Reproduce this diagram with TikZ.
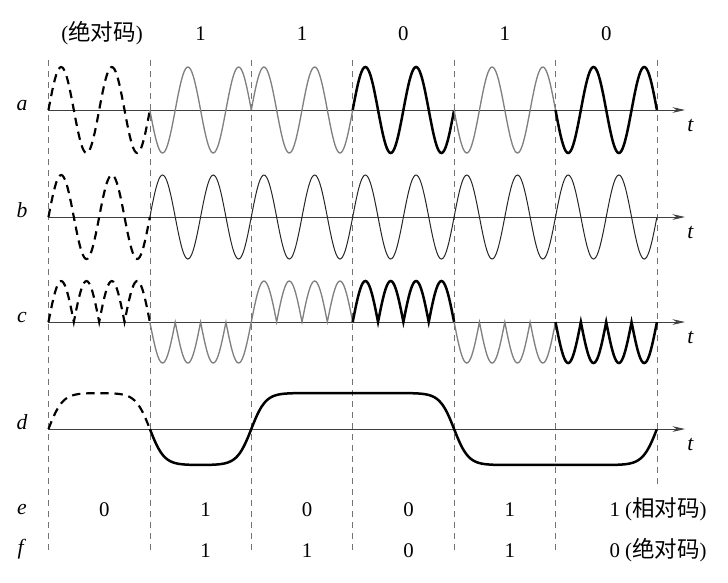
\documentclass[tikz,border=0pt]{standalone}
\usepackage{fontspec}
\setmainfont{Liberation Serif}
\newfontfamily\cjk[Scale=1.08]{Noto Sans CJK SC}
\usetikzlibrary{arrows.meta}
\tikzstyle{axis}=[draw=black!75, line width=0.5pt, -{Stealth[length=7.5pt,width=3.4pt]}]
\tikzstyle{bitline}=[draw=black!55, line width=0.4pt, dash pattern=on 3.6pt off 3pt]

\begin{document}
\begin{tikzpicture}[x=60.84pt, y=-0.6pt,
  font=\fontsize{12.5}{14}\selectfont,
  code/.style={inner sep=0pt, anchor=base},
  lbl/.style={inner sep=0pt, anchor=base, font=\fontsize{13}{15}\selectfont\itshape},
  refwave/.style={black, line width=1.3pt, dash pattern=on 5pt off 3.5pt},
  onewave/.style={black!50, line width=0.8pt},
  zerowave/.style={black, line width=1.5pt},
  carrier/.style={black!85, line width=0.6pt},
  declare function={sg(\q)=tanh(max(-3,min(3,\q/0.14)));}]
\useasboundingbox (-0.478,0) rectangle (6.701,582);
% bit boundaries
\foreach \k in {0,...,5}{
  \coordinate (top\k) at (\k,60);
  \coordinate (bot\k) at (\k,552);
  \draw[bitline] (top\k) -- (bot\k);
}
\coordinate (top6) at (6,60);
\coordinate (bot6) at (6,485);
\draw[bitline] (top6) -- (bot6);
% axes
\foreach \n/\yy in {a/110,b/217,c/322,d/429}{
  \coordinate (\n0) at (0,\yy);
  \coordinate (\n1) at (6.277,\yy);
  \draw[axis] (\n0) -- (\n1);
  \node[lbl] (\n lab) at (-0.261,\yy) {\n};
  \node[lbl] (\n t) at (6.33,\yy+21) {t};
}
\node[lbl] (elab) at (-0.261,514) {e};
\node[lbl] (flab) at (-0.275,554) {f};
% a and c
\foreach \k/\s/\st [evaluate=\k as \kk using int(\k+1)] in {0/1/refwave,1/-1/onewave,2/1/onewave,3/1/zerowave,4/-1/onewave,5/-1/zerowave}{
  \draw[\st] plot[domain=\k:\kk, samples=81] (\x,{110-43*(\s)*sin(720*\x)});
  \draw[\st] plot[domain=\k:\kk, samples=81] (\x,{322-41*(\s)*abs(sin(720*\x))});
}
% b
\draw[refwave] plot[domain=0:1, samples=81] (\x,{217-42*sin(720*\x)});
\draw[carrier] plot[domain=1:6, samples=401] (\x,{217-42*sin(720*\x)});
% d
\draw[refwave] plot[domain=0:1, samples=81] (\x,{429-36*(sg(\x)-sg(\x-1)+sg(\x-2)-sg(\x-4)+sg(\x-6))});
\draw[zerowave] plot[domain=1:6, samples=301] (\x,{429-36*(sg(\x)-sg(\x-1)+sg(\x-2)-sg(\x-4)+sg(\x-6))});
% codes
\node[code] (abs0) at (0.528,40) {({\cjk 绝对码})};
\foreach \k/\v in {1/1,2/1,3/0,4/1,5/0}
  \node[code] (abs\k) at (\k+0.5,40) {\v};
\foreach \k/\v in {0/0,1/1,2/0,3/0,4/1}
  \node[code] (rel\k) at (\k+0.55,516) {\v};
\node[code, anchor=base west] (rel5) at (5.53,516) {1 ({\cjk 相对码})};
\foreach \k/\v in {1/1,2/1,3/0,4/1}
  \node[code] (out\k) at (\k+0.55,557) {\v};
\node[code, anchor=base west] (out5) at (5.53,557) {0 ({\cjk 绝对码})};
\end{tikzpicture}
\end{document}
